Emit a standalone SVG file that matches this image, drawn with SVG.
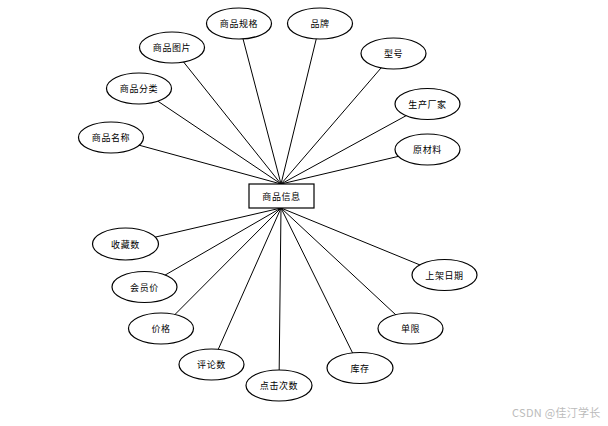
<svg xmlns="http://www.w3.org/2000/svg" width="608" height="426" viewBox="0 0 608 426">
<style>
.e{fill:#fff;stroke:#000;stroke-width:1.2}
.r{fill:#fff;stroke:#000;stroke-width:1.2}
.t{font-family:"Noto Sans CJK SC","Liberation Sans",sans-serif;font-size:9px;fill:#000;text-anchor:middle;dominant-baseline:central;letter-spacing:0.6px}
.c line{stroke:#000;stroke-width:1}
.w{font-family:"Noto Sans CJK SC","Liberation Sans",sans-serif;font-size:11px;fill:#bbb;letter-spacing:0.3px}
</style>
<rect width="608" height="426" fill="#fff"/>
<g class="c" id="connectors">
<line x1="281" y1="184" x2="239" y2="23.5"/>
<line x1="281" y1="184" x2="320" y2="23.5"/>
<line x1="281" y1="184" x2="172" y2="47.5"/>
<line x1="281" y1="184" x2="139" y2="88.5"/>
<line x1="281" y1="184" x2="111" y2="137.5"/>
<line x1="281" y1="184" x2="393.5" y2="53.5"/>
<line x1="281" y1="184" x2="427.5" y2="104"/>
<line x1="281" y1="184" x2="427.5" y2="149.5"/>
<line x1="281" y1="208" x2="125.5" y2="244"/>
<line x1="281" y1="208" x2="144.5" y2="287"/>
<line x1="281" y1="208" x2="161" y2="328.5"/>
<line x1="281" y1="208" x2="211.5" y2="364.5"/>
<line x1="281" y1="208" x2="279" y2="385.5"/>
<line x1="281" y1="208" x2="360" y2="368"/>
<line x1="281" y1="208" x2="410.5" y2="328.5"/>
<line x1="281" y1="208" x2="444.5" y2="275"/>
</g>
<g id="center"><rect class="r" x="249" y="184" width="65" height="24"/><text class="t" x="281.5" y="196">商品信息</text></g>
<g id="n1"><ellipse class="e" cx="239" cy="23.5" rx="32.5" ry="15.5"/><text class="t" x="239" y="23.5">商品规格</text></g>
<g id="n2"><ellipse class="e" cx="320" cy="23.5" rx="32.5" ry="15.5"/><text class="t" x="320" y="23.5">品牌</text></g>
<g id="n3"><ellipse class="e" cx="172" cy="47.5" rx="32.5" ry="15.5"/><text class="t" x="172" y="47.5">商品图片</text></g>
<g id="n4"><ellipse class="e" cx="139" cy="88.5" rx="32.5" ry="15.5"/><text class="t" x="139" y="88.5">商品分类</text></g>
<g id="n5"><ellipse class="e" cx="111" cy="137.5" rx="32.5" ry="15.5"/><text class="t" x="111" y="137.5">商品名称</text></g>
<g id="n6"><ellipse class="e" cx="393.5" cy="53.5" rx="32.5" ry="15.5"/><text class="t" x="393.5" y="53.5">型号</text></g>
<g id="n7"><ellipse class="e" cx="427.5" cy="104" rx="32.5" ry="15.5"/><text class="t" x="427.5" y="104">生产厂家</text></g>
<g id="n8"><ellipse class="e" cx="427.5" cy="149.5" rx="32.5" ry="15.5"/><text class="t" x="427.5" y="149.5">原材料</text></g>
<g id="n9"><ellipse class="e" cx="125.5" cy="244" rx="33" ry="16"/><text class="t" x="125.5" y="244">收藏数</text></g>
<g id="n10"><ellipse class="e" cx="144.5" cy="287" rx="32.5" ry="15.5"/><text class="t" x="144.5" y="287">会员价</text></g>
<g id="n11"><ellipse class="e" cx="161" cy="328.5" rx="32.5" ry="15.5"/><text class="t" x="161" y="328.5">价格</text></g>
<g id="n12"><ellipse class="e" cx="211.5" cy="364.5" rx="32.5" ry="15.5"/><text class="t" x="211.5" y="364.5">评论数</text></g>
<g id="n13"><ellipse class="e" cx="279" cy="385.5" rx="33" ry="15.5"/><text class="t" x="279" y="385.5">点击次数</text></g>
<g id="n14"><ellipse class="e" cx="360" cy="368" rx="33" ry="15.5"/><text class="t" x="360" y="368">库存</text></g>
<g id="n15"><ellipse class="e" cx="410.5" cy="328.5" rx="32.5" ry="15.5"/><text class="t" x="410.5" y="328.5">单限</text></g>
<g id="n16"><ellipse class="e" cx="444.5" cy="275" rx="32.5" ry="15.5"/><text class="t" x="444.5" y="275">上架日期</text></g>
<text class="w" x="512" y="417">CSDN @佳汀学长</text>
</svg>
